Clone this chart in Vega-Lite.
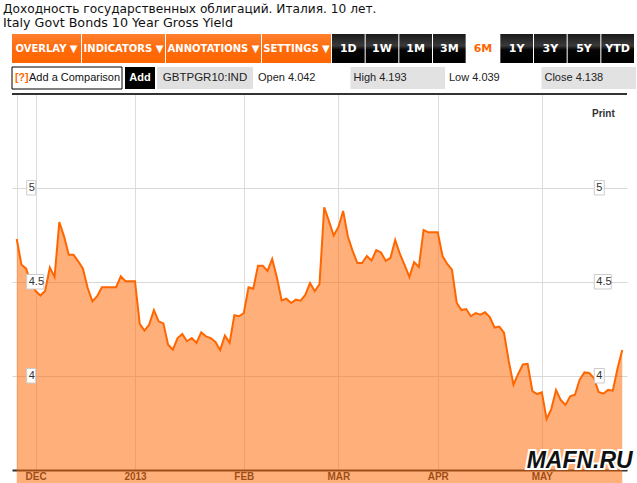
{
"$schema":"https://vega.github.io/schema/vega-lite/v6.json",
"padding":{"left":3,"top":3,"right":0,"bottom":0},
"background":"#ffffff",
"title":{"text":"Доходность государственных облигаций. Италия. 10 лет.","subtitle":"Italy Govt Bonds 10 Year Gross Yield","anchor":"start","font":"DejaVu Sans","fontSize":12.2,"fontWeight":"normal","color":"#111111","subtitleFont":"DejaVu Sans","subtitleFontSize":12.7,"subtitleColor":"#111111","subtitlePadding":2,"offset":4},
"config":{"view":{"stroke":null},"font":"DejaVu Sans"},
"spacing":1,
"datasets":{"yield":[
{"d":"2012-11-27","v":4.729},{"d":"2012-11-28","v":4.592},{"d":"2012-11-29","v":4.571},{"d":"2012-11-30","v":4.489},
{"d":"2012-12-03","v":4.452},{"d":"2012-12-04","v":4.428},{"d":"2012-12-05","v":4.452},{"d":"2012-12-06","v":4.577},{"d":"2012-12-07","v":4.527},
{"d":"2012-12-10","v":4.819},{"d":"2012-12-11","v":4.743},{"d":"2012-12-12","v":4.645},{"d":"2012-12-13","v":4.645},{"d":"2012-12-14","v":4.610},
{"d":"2012-12-17","v":4.571},{"d":"2012-12-18","v":4.468},{"d":"2012-12-19","v":4.397},{"d":"2012-12-20","v":4.424},{"d":"2012-12-21","v":4.472},
{"d":"2012-12-24","v":4.472},{"d":"2012-12-25","v":4.472},{"d":"2012-12-26","v":4.472},{"d":"2012-12-27","v":4.530},{"d":"2012-12-28","v":4.504},
{"d":"2012-12-31","v":4.504},{"d":"2013-01-01","v":4.504},{"d":"2013-01-02","v":4.277},{"d":"2013-01-03","v":4.241},{"d":"2013-01-04","v":4.273},
{"d":"2013-01-07","v":4.351},{"d":"2013-01-08","v":4.291},{"d":"2013-01-09","v":4.280},{"d":"2013-01-10","v":4.166},{"d":"2013-01-11","v":4.140},
{"d":"2013-01-14","v":4.202},{"d":"2013-01-15","v":4.223},{"d":"2013-01-16","v":4.185},{"d":"2013-01-17","v":4.202},{"d":"2013-01-18","v":4.176},
{"d":"2013-01-21","v":4.232},{"d":"2013-01-22","v":4.211},{"d":"2013-01-23","v":4.202},{"d":"2013-01-24","v":4.181},{"d":"2013-01-25","v":4.138},
{"d":"2013-01-28","v":4.215},{"d":"2013-01-29","v":4.176},{"d":"2013-01-30","v":4.323},{"d":"2013-01-31","v":4.318},{"d":"2013-02-01","v":4.335},
{"d":"2013-02-04","v":4.472},{"d":"2013-02-05","v":4.464},{"d":"2013-02-06","v":4.587},{"d":"2013-02-07","v":4.587},{"d":"2013-02-08","v":4.559},
{"d":"2013-02-11","v":4.622},{"d":"2013-02-12","v":4.524},{"d":"2013-02-13","v":4.402},{"d":"2013-02-14","v":4.411},{"d":"2013-02-15","v":4.388},
{"d":"2013-02-18","v":4.406},{"d":"2013-02-19","v":4.401},{"d":"2013-02-20","v":4.431},{"d":"2013-02-21","v":4.495},{"d":"2013-02-22","v":4.451},
{"d":"2013-02-25","v":4.489},{"d":"2013-02-26","v":4.897},{"d":"2013-02-27","v":4.824},{"d":"2013-02-28","v":4.747},{"d":"2013-03-01","v":4.793},
{"d":"2013-03-04","v":4.878},{"d":"2013-03-05","v":4.742},{"d":"2013-03-06","v":4.666},{"d":"2013-03-07","v":4.601},{"d":"2013-03-08","v":4.601},
{"d":"2013-03-11","v":4.638},{"d":"2013-03-12","v":4.614},{"d":"2013-03-13","v":4.670},{"d":"2013-03-14","v":4.657},{"d":"2013-03-15","v":4.612},
{"d":"2013-03-18","v":4.628},{"d":"2013-03-19","v":4.723},{"d":"2013-03-20","v":4.649},{"d":"2013-03-21","v":4.590},{"d":"2013-03-22","v":4.527},
{"d":"2013-03-25","v":4.606},{"d":"2013-03-26","v":4.580},{"d":"2013-03-27","v":4.777},{"d":"2013-03-28","v":4.764},{"d":"2013-03-29","v":4.764},
{"d":"2013-04-01","v":4.764},{"d":"2013-04-02","v":4.638},{"d":"2013-04-03","v":4.596},{"d":"2013-04-04","v":4.566},{"d":"2013-04-05","v":4.390},
{"d":"2013-04-08","v":4.351},{"d":"2013-04-09","v":4.356},{"d":"2013-04-10","v":4.318},{"d":"2013-04-11","v":4.335},{"d":"2013-04-12","v":4.326},
{"d":"2013-04-15","v":4.339},{"d":"2013-04-16","v":4.314},{"d":"2013-04-17","v":4.258},{"d":"2013-04-18","v":4.263},{"d":"2013-04-19","v":4.230},
{"d":"2013-04-22","v":4.080},{"d":"2013-04-23","v":3.954},{"d":"2013-04-24","v":4.011},{"d":"2013-04-25","v":4.061},{"d":"2013-04-26","v":4.065},
{"d":"2013-04-29","v":3.920},{"d":"2013-04-30","v":3.904},{"d":"2013-05-01","v":3.913},{"d":"2013-05-02","v":3.771},{"d":"2013-05-03","v":3.824},
{"d":"2013-05-06","v":3.926},{"d":"2013-05-07","v":3.872},{"d":"2013-05-08","v":3.846},{"d":"2013-05-09","v":3.892},{"d":"2013-05-10","v":3.900},
{"d":"2013-05-13","v":3.981},{"d":"2013-05-14","v":4.019},{"d":"2013-05-15","v":4.016},{"d":"2013-05-16","v":3.989},{"d":"2013-05-17","v":3.915},
{"d":"2013-05-20","v":3.906},{"d":"2013-05-21","v":3.926},{"d":"2013-05-22","v":3.922},{"d":"2013-05-23","v":4.040},{"d":"2013-05-24","v":4.138}
],
"ticks":[{"v":5,"t":"5"},{"v":4.5,"t":"4.5"},{"v":4,"t":"4"}]},
"hconcat":[
{"width":7,"height":1,"data":{"values":[]},"mark":"text","encoding":{}},
{"spacing":3,"vconcat":[
{"spacing":1,"hconcat":[
 {"width":69,"height":29,"data":{"values":[{"b":"OVERLAY ▼"}]},"encoding":{"x":{"field":"b","type":"nominal","axis":null,"scale":{"paddingInner":0,"paddingOuter":0}}},
  "layer":[{"mark":{"type":"rect","fill":{"gradient":"linear","x1":0,"y1":0,"x2":0,"y2":1,"stops":[{"offset":0,"color":"#ff8030"},{"offset":0.5,"color":"#ff6a0a"},{"offset":1,"color":"#ff6600"}]}}},
   {"mark":{"type":"text","color":"#ffffff","fontSize":10,"fontWeight":"bold"},"encoding":{"text":{"field":"b"}}}]},
 {"width":83,"height":29,"data":{"values":[{"b":"INDICATORS ▼"}]},"encoding":{"x":{"field":"b","type":"nominal","axis":null,"scale":{"paddingInner":0,"paddingOuter":0}}},
  "layer":[{"mark":{"type":"rect","fill":{"gradient":"linear","x1":0,"y1":0,"x2":0,"y2":1,"stops":[{"offset":0,"color":"#ff8030"},{"offset":0.5,"color":"#ff6a0a"},{"offset":1,"color":"#ff6600"}]}}},
   {"mark":{"type":"text","color":"#ffffff","fontSize":10,"fontWeight":"bold"},"encoding":{"text":{"field":"b"}}}]},
 {"width":95,"height":29,"data":{"values":[{"b":"ANNOTATIONS ▼"}]},"encoding":{"x":{"field":"b","type":"nominal","axis":null,"scale":{"paddingInner":0,"paddingOuter":0}}},
  "layer":[{"mark":{"type":"rect","fill":{"gradient":"linear","x1":0,"y1":0,"x2":0,"y2":1,"stops":[{"offset":0,"color":"#ff8030"},{"offset":0.5,"color":"#ff6a0a"},{"offset":1,"color":"#ff6600"}]}}},
   {"mark":{"type":"text","color":"#ffffff","fontSize":10,"fontWeight":"bold"},"encoding":{"text":{"field":"b"}}}]},
 {"width":69,"height":29,"data":{"values":[{"b":"SETTINGS ▼"}]},"encoding":{"x":{"field":"b","type":"nominal","axis":null,"scale":{"paddingInner":0,"paddingOuter":0}}},
  "layer":[{"mark":{"type":"rect","fill":{"gradient":"linear","x1":0,"y1":0,"x2":0,"y2":1,"stops":[{"offset":0,"color":"#ff8030"},{"offset":0.5,"color":"#ff6a0a"},{"offset":1,"color":"#ff6600"}]}}},
   {"mark":{"type":"text","color":"#ffffff","fontSize":10,"fontWeight":"bold"},"encoding":{"text":{"field":"b"}}}]},
 {"width":302,"height":29,"data":{"values":[{"b":"1D"},{"b":"1W"},{"b":"1M"},{"b":"3M"},{"b":"6M"},{"b":"1Y"},{"b":"3Y"},{"b":"5Y"},{"b":"YTD"}]},
  "encoding":{"x":{"field":"b","type":"nominal","sort":["1D","1W","1M","3M","6M","1Y","3Y","5Y","YTD"],"axis":null,"scale":{"paddingInner":0.03,"paddingOuter":0}}},
  "layer":[{"transform":[{"filter":"datum.b != '6M'"}],"mark":{"type":"rect","fill":{"gradient":"linear","x1":0,"y1":0,"x2":0,"y2":1,"stops":[{"offset":0,"color":"#1a1a1a"},{"offset":0.4,"color":"#3a3a3a"},{"offset":0.55,"color":"#050505"},{"offset":1,"color":"#000000"}]}}},
   {"mark":{"type":"text","fontSize":11,"fontWeight":"bold"},"encoding":{"text":{"field":"b"},"color":{"condition":{"test":"datum.b == '6M'","value":"#ff6600"},"value":"#ffffff"}}}]}
]},
{"spacing":2,"hconcat":[
 {"width":110,"height":22,"data":{"values":[{"b":"Add a Comparison"}]},"encoding":{"x":{"field":"b","type":"nominal","axis":null,"bandPosition":0,"scale":{"paddingInner":0,"paddingOuter":0}}},
  "layer":[{"mark":{"type":"rect","fill":"#ffffff","stroke":"#000000","strokeWidth":1}},
   {"mark":{"type":"text","align":"left","dx":3,"color":"#ff6600","fontSize":10.5,"fontWeight":"bold","font":"Liberation Sans","text":"[?]"}},
   {"mark":{"type":"text","align":"left","dx":17,"color":"#111111","fontSize":11,"font":"Liberation Sans"},"encoding":{"text":{"field":"b"}}}]},
 {"width":30,"height":22,"data":{"values":[{"b":"Add"}]},"encoding":{"x":{"field":"b","type":"nominal","axis":null,"scale":{"paddingInner":0,"paddingOuter":0}}},
  "layer":[{"mark":{"type":"rect","fill":"#000000"}},
   {"mark":{"type":"text","color":"#ffffff","fontSize":11,"fontWeight":"bold","font":"Liberation Sans"},"encoding":{"text":{"field":"b"}}}]},
 {"width":96,"height":22,"data":{"values":[{"b":"GBTPGR10:IND"}]},"encoding":{"x":{"field":"b","type":"nominal","axis":null,"scale":{"paddingInner":0,"paddingOuter":0}}},
  "layer":[{"mark":{"type":"rect","fill":"#e0e0e0"}},
   {"mark":{"type":"text","color":"#222222","fontSize":11.5,"font":"Liberation Sans"},"encoding":{"text":{"field":"b"}}}]},
 {"width":381,"height":22,"data":{"values":[{"k":"Open","v":4.042,"g":false},{"k":"High","v":4.193,"g":true},{"k":"Low","v":4.039,"g":false},{"k":"Close","v":4.138,"g":true}]},
  "transform":[{"calculate":"datum.k + ' ' + format(datum.v, '.3f')","as":"lab"}],
  "encoding":{"x":{"field":"k","type":"nominal","sort":["Open","High","Low","Close"],"axis":null,"scale":{"paddingInner":0.01,"paddingOuter":0}}},
  "layer":[{"transform":[{"filter":"datum.g"}],"mark":{"type":"rect","fill":"#e2e2e2"}},
   {"mark":{"type":"text","align":"left","dx":3,"color":"#222222","fontSize":11,"font":"Liberation Sans"},"encoding":{"x":{"field":"k","type":"nominal","sort":["Open","High","Low","Close"],"axis":null,"bandPosition":0},"text":{"field":"lab"}}}]}
]},
{"width":615,"height":376,
 "layer":[
  {"data":{"name":"yield"},
   "mark":{"type":"area","fill":"#ff6600","fillOpacity":0.52,"line":{"stroke":"#ff6600","strokeWidth":2}},
   "encoding":{
    "x":{"field":"d","type":"ordinal","scale":{"type":"point","padding":1.27},
      "axis":{"title":null,"values":["2012-11-27","2012-12-03","2013-01-01","2013-02-01","2013-03-01","2013-04-01","2013-05-01"],
        "labelExpr":"datum.value == '2012-11-27' ? '' : (utcFormat(toDate(datum.value), '%m') == '01' ? utcFormat(toDate(datum.value), '%Y') : upper(utcFormat(toDate(datum.value), '%b')))",
        "labelAngle":0,"grid":true,"gridColor":"#dddddd","ticks":false,"domainColor":"#333333","domainWidth":2,
        "labelFont":"Liberation Sans","labelFontSize":10,"labelFontWeight":"bold","labelColor":"#333333","labelPadding":1}},
    "y":{"field":"v","type":"quantitative","scale":{"domain":[3.5,5.5],"nice":false,"zero":false},
      "axis":{"title":null,"values":[4,4.5,5],"grid":true,"gridColor":"#d9d9d9","labels":false,"ticks":false,"domain":false,"minExtent":0,"maxExtent":0}}}},
  {"data":{"name":"ticks"},"transform":[{"filter":"datum.t != '4.5'"}],
   "mark":{"type":"rect","fill":"#ffffff","stroke":"#cccccc","strokeWidth":1,"xOffset":10,"x2Offset":19,"yOffset":-7.5,"y2Offset":7},
   "encoding":{"x":{"datum":"2012-11-27","type":"ordinal"},"x2":{"datum":"2012-11-27"},"y":{"field":"v","type":"quantitative"},"y2":{"field":"v"}}},
  {"data":{"name":"ticks"},"transform":[{"filter":"datum.t == '4.5'"}],
   "mark":{"type":"rect","fill":"#ffffff","stroke":"#cccccc","strokeWidth":1,"xOffset":10,"x2Offset":27,"yOffset":-7.5,"y2Offset":7},
   "encoding":{"x":{"datum":"2012-11-27","type":"ordinal"},"x2":{"datum":"2012-11-27"},"y":{"field":"v","type":"quantitative"},"y2":{"field":"v"}}},
  {"data":{"name":"ticks"},"transform":[{"filter":"datum.t != '4.5'"}],
   "mark":{"type":"rect","fill":"#ffffff","stroke":"#cccccc","strokeWidth":1,"xOffset":-28,"x2Offset":-18,"yOffset":-7.5,"y2Offset":7},
   "encoding":{"x":{"datum":"2013-05-24","type":"ordinal"},"x2":{"datum":"2013-05-24"},"y":{"field":"v","type":"quantitative"},"y2":{"field":"v"}}},
  {"data":{"name":"ticks"},"transform":[{"filter":"datum.t == '4.5'"}],
   "mark":{"type":"rect","fill":"#ffffff","stroke":"#cccccc","strokeWidth":1,"xOffset":-28,"x2Offset":-11,"yOffset":-7.5,"y2Offset":7},
   "encoding":{"x":{"datum":"2013-05-24","type":"ordinal"},"x2":{"datum":"2013-05-24"},"y":{"field":"v","type":"quantitative"},"y2":{"field":"v"}}},
  {"data":{"name":"ticks"},
   "mark":{"type":"text","align":"left","baseline":"middle","dx":12,"fontSize":11,"font":"Liberation Sans","color":"#333333"},
   "encoding":{"x":{"datum":"2012-11-27","type":"ordinal"},"y":{"field":"v","type":"quantitative"},"text":{"field":"t"}}},
  {"data":{"name":"ticks"},
   "mark":{"type":"text","align":"left","baseline":"middle","dx":-26,"fontSize":11,"font":"Liberation Sans","color":"#333333"},
   "encoding":{"x":{"datum":"2013-05-24","type":"ordinal"},"y":{"field":"v","type":"quantitative"},"text":{"field":"t"}}},
  {"data":{"values":[{}]},"mark":{"type":"rule","color":"#333333","strokeWidth":2},"encoding":{"y":{"datum":5.5}}},
  {"data":{"values":[{"t":"Print"}]},"mark":{"type":"text","fontSize":10,"fontWeight":"bold","font":"Liberation Sans","color":"#333333","baseline":"middle"},
   "encoding":{"x":{"datum":"2013-05-20","type":"ordinal"},"y":{"datum":5.395},"text":{"field":"t"}}},
  {"data":{"values":[{"t":"MAFN.RU"}]},"mark":{"type":"text","fontSize":23,"fontWeight":"bold","fontStyle":"italic","font":"Liberation Sans","color":"#ffffff","stroke":"#ffffff","strokeWidth":4,"baseline":"middle"},
   "encoding":{"x":{"datum":"2013-05-13","type":"ordinal"},"y":{"datum":3.55},"text":{"field":"t"}}},
  {"data":{"values":[{"t":"MAFN.RU"}]},"mark":{"type":"text","fontSize":23,"fontWeight":"bold","fontStyle":"italic","font":"Liberation Sans","color":"#111111","baseline":"middle"},
   "encoding":{"x":{"datum":"2013-05-13","type":"ordinal"},"y":{"datum":3.55},"text":{"field":"t"}}}
 ]}
]}
]
}
